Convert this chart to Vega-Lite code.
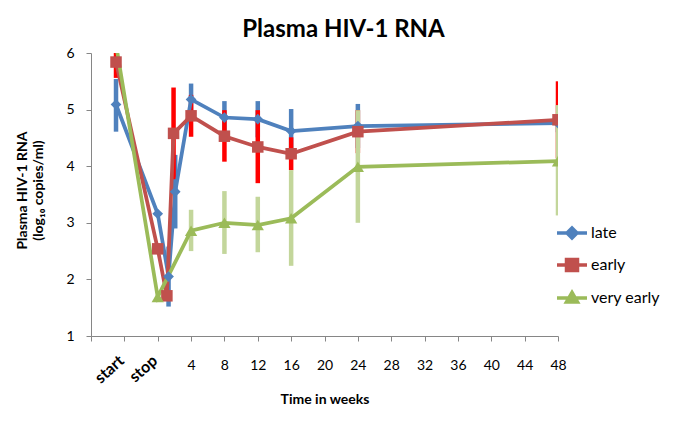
{
  "$schema": "https://vega.github.io/schema/vega-lite/v6.json",
  "autosize": {"type": "none"},
  "width": 467,
  "height": 283,
  "padding": {"left": 91, "top": 53, "right": 127, "bottom": 86},
  "background": "#ffffff",
  "title": {"text": "Plasma HIV-1 RNA", "font": "Lato", "fontSize": 24, "fontWeight": "bold", "color": "#000000", "anchor": "middle", "frame": "group", "dx": 19, "offset": 4},
  "config": {
    "view": {"stroke": null},
    "axis": {"grid": false, "domainColor": "#868686", "tickColor": "#868686", "tickSize": 5, "labelFont": "Lato", "labelFontSize": 14, "labelColor": "#000000", "titleFont": "Lato", "titleFontSize": 14, "titleFontWeight": "bold", "titleColor": "#000000"},
    "legend": {"labelFont": "Lato", "labelFontSize": 16, "labelColor": "#000000"}
  },
  "data": {"values": [
    {"series": "late", "week": -5, "value": 5.09, "lo": 4.61, "hi": 5.54},
    {"series": "late", "week": 0, "value": 3.16},
    {"series": "late", "week": 1.3, "value": 2.05, "lo": 1.52, "hi": 2.58},
    {"series": "late", "week": 2.1, "value": 3.55, "lo": 2.9, "hi": 4.2},
    {"series": "late", "week": 4, "value": 5.18, "lo": 4.9, "hi": 5.46},
    {"series": "late", "week": 8, "value": 4.86, "lo": 4.57, "hi": 5.15},
    {"series": "late", "week": 12, "value": 4.83, "lo": 4.51, "hi": 5.15},
    {"series": "late", "week": 16, "value": 4.62, "lo": 4.23, "hi": 5.01},
    {"series": "late", "week": 24, "value": 4.71, "lo": 4.32, "hi": 5.1},
    {"series": "late", "week": 48, "value": 4.76, "lo": 4.6, "hi": 4.92},
    {"series": "early", "week": -5, "value": 5.84, "lo": 5.56, "hi": 6.12},
    {"series": "early", "week": 0, "value": 2.54},
    {"series": "early", "week": 1.1, "value": 1.71},
    {"series": "early", "week": 1.9, "value": 4.58, "lo": 3.77, "hi": 5.39},
    {"series": "early", "week": 4, "value": 4.89, "lo": 4.52, "hi": 5.26},
    {"series": "early", "week": 8, "value": 4.53, "lo": 4.08, "hi": 4.99},
    {"series": "early", "week": 12, "value": 4.34, "lo": 3.7, "hi": 4.99},
    {"series": "early", "week": 16, "value": 4.22, "lo": 3.93, "hi": 4.51},
    {"series": "early", "week": 24, "value": 4.61, "lo": 4.23, "hi": 4.99},
    {"series": "early", "week": 48, "value": 4.82, "lo": 4.14, "hi": 5.5},
    {"series": "very early", "week": -5, "value": 6.15},
    {"series": "very early", "week": 0, "value": 1.69},
    {"series": "very early", "week": 4, "value": 2.86, "lo": 2.5, "hi": 3.23},
    {"series": "very early", "week": 8, "value": 3.0, "lo": 2.45, "hi": 3.56},
    {"series": "very early", "week": 12, "value": 2.96, "lo": 2.48, "hi": 3.46},
    {"series": "very early", "week": 16, "value": 3.08, "lo": 2.24, "hi": 3.93},
    {"series": "very early", "week": 24, "value": 3.99, "lo": 3.0, "hi": 4.99},
    {"series": "very early", "week": 48, "value": 4.09, "lo": 3.13, "hi": 5.08}
  ]},
  "encoding": {
    "y": {"field": "value", "type": "quantitative",
      "scale": {"domain": [1, 6], "nice": false, "zero": false},
      "axis": {
        "title": ["Plasma HIV-1 RNA", "(log₁₀ copies/ml)"],
        "values": [1, 2, 3, 4, 5, 6],
        "format": "d",
        "labelPadding": 12,
        "titleAngle": -90,
        "titleAlign": "center",
        "titleBaseline": "middle",
        "titleX": -69,
        "titleY": 137,
        "titleLineHeight": 16
      }
    }
  },
  "layer": [
    {
      "transform": [{"filter": "datum.lo != null"}],
      "mark": {"type": "rule", "strokeWidth": 4.5, "clip": true},
      "encoding": {
        "x": {"field": "week", "type": "quantitative", "scale": {"domain": [-8, 48], "nice": false, "zero": false}, "axis": null},
        "y": {"field": "lo", "type": "quantitative"},
        "y2": {"field": "hi"},
        "stroke": {"field": "series", "type": "nominal", "scale": {"domain": ["late", "early", "very early"], "range": ["#4F81BD", "#FF0000", "#C3D69B"]}, "legend": null}
      }
    },
    {
      "mark": {"type": "line", "strokeWidth": 3.75, "clip": true},
      "encoding": {
        "x": {"field": "week", "type": "quantitative", "scale": {"domain": [-8, 48], "nice": false, "zero": false}, "axis": null},
        "color": {"field": "series", "type": "nominal", "scale": {"domain": ["late", "early", "very early"], "range": ["#4F81BD", "#C0504D", "#9BBB59"]}, "legend": null}
      }
    },
    {
      "mark": {"type": "point", "filled": true, "opacity": 1, "clip": true},
      "encoding": {
        "x": {"field": "week", "type": "quantitative", "scale": {"domain": [-8, 48], "nice": false, "zero": false},
          "axis": {
            "orient": "bottom",
            "title": "Time in weeks",
            "values": [-8, -4, 0, 4, 8, 12, 16, 20, 24, 28, 32, 36, 40, 44, 48],
            "labelExpr": "datum.value <= 0 ? '' : datum.label",
            "labelAlign": "center",
            "labelBaseline": "middle",
            "labelPadding": 24,
            "labelOverlap": false,
            "labelBound": false,
            "labelFlush": false,
            "titleBaseline": "middle",
            "titleY": 63
          }
        },
        "color": {"field": "series", "type": "nominal", "legend": null},
        "size": {"field": "series", "type": "nominal", "scale": {"domain": ["late", "early", "very early"], "range": [115, 150, 135]}, "legend": null},
        "shape": {"field": "series", "type": "nominal", "scale": {"domain": ["late", "early", "very early"], "range": ["diamond", "square", "triangle-up"]}, "legend": null}
      }
    },
    {
      "mark": {"type": "point", "opacity": 0, "clip": true},
      "encoding": {
        "x": {"field": "week", "type": "quantitative", "scale": {"domain": [-8, 48], "nice": false, "zero": false},
          "axis": {
            "orient": "bottom",
            "title": null,
            "values": [-4, 0],
            "labelExpr": "datum.value == -4 ? 'start' : 'stop'",
            "labelAngle": -42,
            "labelAlign": "right",
            "labelBaseline": "middle",
            "labelFontWeight": "bold",
            "labelFontSize": 16,
            "labelPadding": 22,
            "labelOffset": -3,
            "labelOverlap": false,
            "labelBound": false,
            "labelFlush": false,
            "domain": false,
            "ticks": false,
            "tickSize": 0
          }
        },
        "fill": {"field": "series", "type": "nominal", "scale": {"domain": ["late", "early", "very early"], "range": ["#4F81BD", "#C0504D", "#9BBB59"]},
          "legend": {"title": null, "orient": "none", "legendX": 473, "legendY": 172, "symbolOpacity": 1, "symbolSize": 100, "symbolStrokeWidth": 3.5, "rowPadding": 7, "labelOffset": 11}},
        "stroke": {"field": "series", "type": "nominal", "scale": {"domain": ["late", "early", "very early"], "range": ["#4F81BD", "#C0504D", "#9BBB59"]},
          "legend": {"title": null, "orient": "none", "legendX": 473, "legendY": 172, "symbolOpacity": 1, "symbolSize": 100, "symbolStrokeWidth": 3.5, "rowPadding": 7, "labelOffset": 11}},
        "shape": {"field": "series", "type": "nominal", "scale": {"domain": ["late", "early", "very early"], "range": ["M-3,0H3M0,-1L1,0L0,1L-1,0Z", "M-3,0H3M-1.1,-1.1H1.1V1.1H-1.1Z", "M-3,0H3M0,-1.1L1.1,0.8H-1.1Z"]},
          "legend": {"title": null, "orient": "none", "legendX": 473, "legendY": 172, "symbolOpacity": 1, "symbolSize": 100, "symbolStrokeWidth": 3.5, "rowPadding": 7, "labelOffset": 11}}
      }
    }
  ],
  "resolve": {"scale": {"shape": "independent", "stroke": "independent", "fill": "independent"}, "axis": {"x": "independent"}}
}
